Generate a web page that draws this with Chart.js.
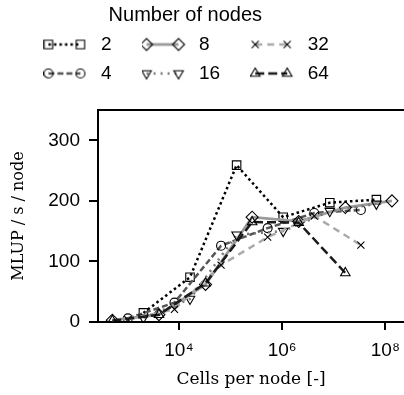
<!DOCTYPE html>
<html>
<head>
<meta charset="utf-8">
<script src="https://cdn.jsdelivr.net/npm/chart.js@4/dist/chart.umd.min.js"></script>
<style>
  html, body { margin: 0; padding: 0; background: #ffffff; }
  #wrap { width: 404px; height: 395px; }
</style>
</head>
<body>
<div id="wrap"><canvas id="c" width="404" height="395"></canvas></div>
<script>
// ---------------- data ----------------
const seriesNames = ['2', '4', '8', '16', '32', '64'];

const cells2  = [2048, 16384, 131072, 1048576, 8388608, 67108864];
const mlup2   = [15, 74, 259, 173, 197, 202];

const cells4  = [1024, 8192, 65536, 524288, 4194304, 33554432];
const mlup4   = [6, 32, 126, 155, 180, 185];

const cells8  = [512, 4096, 32768, 262144, 2097152, 16777216, 134217728];
const mlup8   = [3, 12, 62, 173, 166, 189, 200];

const cells16 = [2048, 16384, 131072, 1048576, 8388608, 67108864];
const mlup16  = [7, 38, 144, 150, 183, 195];

const cells32 = [1024, 8192, 65536, 524288, 4194304, 33554432];
const mlup32  = [4, 21, 94, 140, 175, 127];

const cells64 = [512, 4096, 32768, 262144, 2097152, 16777216];
const mlup64  = [2, 12, 64, 165, 164, 81];

const xTickValues = [1e4, 1e6, 1e8];
const xTickLabels = ['10\u2074', '10\u2076', '10\u2078'];
const yTickValues = [0, 100, 200, 300];

const legendTitle = 'Number of nodes';
const xTitle = 'Cells per node [-]';
const yTitle = 'MLUP / s / node';

// ---------------- styles ----------------
const cellsAll = [cells2, cells4, cells8, cells16, cells32, cells64];
const mlupAll  = [mlup2, mlup4, mlup8, mlup16, mlup32, mlup64];
const colors   = ['#000000', '#555555', '#9a9a9a', '#777777', '#aaaaaa', '#1a1a1a'];
const dashes   = [[2.5, 3], [6, 3], [], [2, 5], [7, 5], [9, 4]];
const widths   = [2.5, 2.5, 2.8, 2.5, 2.5, 2.5];
const markers  = ['rect', 'circle', 'rectRot', 'triangle', 'crossRot', 'triangle'];
const rotations = [0, 0, 0, 180, 0, 0];
const radii    = [6, 4.5, 6, 5.5, 5, 5.5];

// legend layout: 3 columns, column-major like the reference
const legendOrder = [0, 2, 4, 1, 3, 5];
const FS = '\u2007', EN = '\u2002';
const legendPad = ['2' + FS + EN, '4' + FS + EN, '8' + FS + FS + EN, '16' + FS + EN, '32' + FS + FS + FS, '64' + FS + FS + FS];

function drawMarker(g, style, x, y, r, rotDeg) {
  let rad = rotDeg * Math.PI / 180;
  g.beginPath();
  if (style === 'circle') {
    g.arc(x, y, r, 0, Math.PI * 2);
    g.closePath();
  } else if (style === 'rect') {
    const s = Math.SQRT1_2 * r;
    g.rect(x - s, y - s, 2 * s, 2 * s);
  } else if (style === 'rectRot') {
    const xo = Math.cos(rad) * r, yo = Math.sin(rad) * r;
    g.moveTo(x - xo, y - yo); g.lineTo(x + yo, y - xo);
    g.lineTo(x + xo, y + yo); g.lineTo(x - yo, y + xo); g.closePath();
  } else if (style === 'triangle') {
    g.moveTo(x + Math.sin(rad) * r, y - Math.cos(rad) * r);
    rad += 2 * Math.PI / 3;
    g.lineTo(x + Math.sin(rad) * r, y - Math.cos(rad) * r);
    rad += 2 * Math.PI / 3;
    g.lineTo(x + Math.sin(rad) * r, y - Math.cos(rad) * r);
    g.closePath();
  } else if (style === 'crossRot') {
    rad += Math.PI / 4;
    const xo = Math.cos(rad) * r, yo = Math.sin(rad) * r;
    g.moveTo(x - xo, y - yo); g.lineTo(x + xo, y + yo);
    g.moveTo(x + yo, y - xo); g.lineTo(x - yo, y + xo);
  }
  g.stroke();
}

function makeLegendImage(i) {
  const c = document.createElement('canvas');
  c.width = 48; c.height = 16;
  const g = c.getContext('2d');
  g.strokeStyle = colors[i];
  g.lineWidth = widths[i];
  g.setLineDash(dashes[i]);
  g.beginPath(); g.moveTo(5, 8); g.lineTo(37, 8); g.stroke();
  g.setLineDash([]);
  g.strokeStyle = '#000';
  g.lineWidth = 1.1;
  drawMarker(g, markers[i], 5, 8, radii[i], rotations[i]);
  drawMarker(g, markers[i], 37, 8, radii[i], rotations[i]);
  return c;
}
const legendImages = seriesNames.map((_, i) => makeLegendImage(i));

const datasets = seriesNames.map((name, i) => ({
  label: name,
  data: cellsAll[i].map((x, k) => ({ x: x, y: mlupAll[i][k] })),
  borderColor: colors[i],
  borderWidth: widths[i],
  borderDash: dashes[i],
  borderCapStyle: 'butt',
  fill: false,
  tension: 0,
  pointStyle: markers[i],
  pointRotation: rotations[i],
  pointRadius: radii[i],
  pointBorderColor: '#000',
  pointBackgroundColor: 'rgba(255,255,255,0)',
  pointBorderWidth: 1.1,
  order: 5 - i
}));

const sansFont = 'Liberation Sans, Arial, sans-serif';
const serifFont = 'DejaVu Serif, serif';

new Chart(document.getElementById('c'), {
  type: 'line',
  data: { datasets: datasets },
  options: {
    responsive: false,
    animation: false,
    devicePixelRatio: 1,
    layout: { padding: 0, autoPadding: false },
    plugins: {
      tooltip: { enabled: false },
      legend: {
        display: true,
        position: 'top',
        align: 'center',
        title: {
          display: true,
          text: legendTitle + FS + FS + FS,
          color: '#000',
          font: { family: sansFont, size: 20, lineHeight: 1 },
          padding: { top: 5, bottom: 0 }
        },
        labels: {
          usePointStyle: true,
          pointStyleWidth: 48,
          padding: 10,
          color: '#000',
          font: { family: sansFont, size: 19 },
          generateLabels: () => legendOrder.map(i => ({
            text: legendPad[i],
            pointStyle: legendImages[i],
            datasetIndex: i,
            hidden: false,
            fillStyle: 'rgba(0,0,0,0)',
            strokeStyle: 'rgba(0,0,0,0)',
            lineWidth: 0,
            fontColor: '#000'
          }))
        }
      },
      title: {
        display: true,
        text: '',
        weight: 500,
        font: { size: 10, lineHeight: 1 },
        padding: { top: 7, bottom: 0 }
      }
    },
    scales: {
      x: {
        type: 'logarithmic',
        position: 'bottom',
        min: 270,
        max: 2.3e8,
        afterBuildTicks: s => { s.ticks = xTickValues.map(v => ({ value: v })); },
        afterFit: s => { s.height = 73; s.paddingRight = 0; s.paddingLeft = 0; },
        ticks: {
          callback: v => xTickLabels[xTickValues.indexOf(v)],
          autoSkip: false,
          maxRotation: 0,
          minRotation: 0,
          padding: 3,
          color: '#000',
          font: { family: sansFont, size: 19, lineHeight: 1.83 }
        },
        grid: { display: true, drawOnChartArea: false, drawTicks: true, tickLength: 8, lineWidth: 2, color: '#000' },
        border: { display: true, color: '#000', width: 2 },
        title: {
          display: true,
          text: xTitle,
          color: '#000',
          font: { family: serifFont, size: 17, lineHeight: 1.2 },
          padding: { top: 6, bottom: 5 }
        }
      },
      x2: {
        type: 'linear',
        position: 'top',
        min: 0,
        max: 1,
        afterFit: s => { s.paddingRight = 0; s.paddingLeft = 0; },
        ticks: { display: false },
        grid: { display: false, drawTicks: false },
        border: { display: true, color: '#000', width: 2 }
      },
      y: {
        type: 'linear',
        position: 'left',
        min: 0,
        max: 350,
        afterBuildTicks: s => { s.ticks = yTickValues.map(v => ({ value: v })); },
        afterFit: s => { s.width = 98; },
        ticks: {
          padding: 9,
          color: '#000',
          font: { family: sansFont, size: 19 }
        },
        grid: { display: true, drawOnChartArea: false, drawTicks: true, tickLength: 9, lineWidth: 2, color: '#000' },
        border: { display: true, color: '#000', width: 2 },
        title: {
          display: true,
          text: yTitle,
          color: '#000',
          font: { family: serifFont, size: 16, lineHeight: 1.2 },
          padding: { top: 9, bottom: 0 }
        }
      }
    }
  }
});
</script>
</body>
</html>
